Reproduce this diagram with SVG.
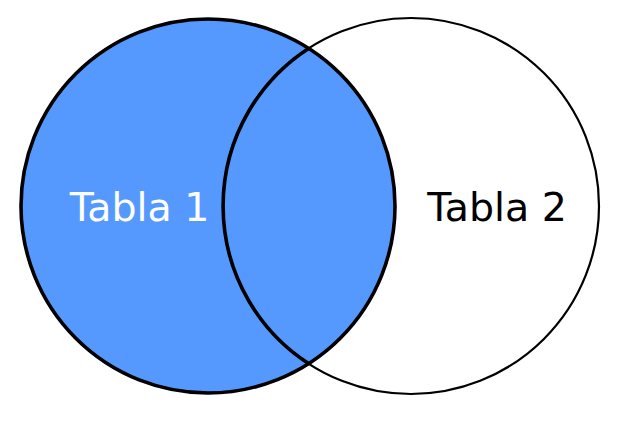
<svg xmlns="http://www.w3.org/2000/svg" width="628" height="435" viewBox="0 0 628 435">
<style>
.lbl{font-family:"DejaVu Sans",sans-serif;font-size:39.5px}
</style>
<rect width="628" height="435" fill="#ffffff"/>
<g id="tabla1">
<circle cx="208" cy="206" r="187" fill="#5599ff" stroke="#000" stroke-width="3.6"/>
</g>
<g id="tabla2">
<circle cx="411" cy="206" r="188" fill="none" stroke="#000" stroke-width="2.2"/>
<path d="M308.6,48.4 A188,188 0 0 0 308.6,363.6" fill="none" stroke="#000" stroke-width="3.6"/>
</g>
<g id="labels">
<text class="lbl" x="139.5" y="221" text-anchor="middle" fill="#ffffff">Tabla 1</text>
<text class="lbl" x="497" y="221" text-anchor="middle" fill="#000000">Tabla 2</text>
</g>
</svg>
